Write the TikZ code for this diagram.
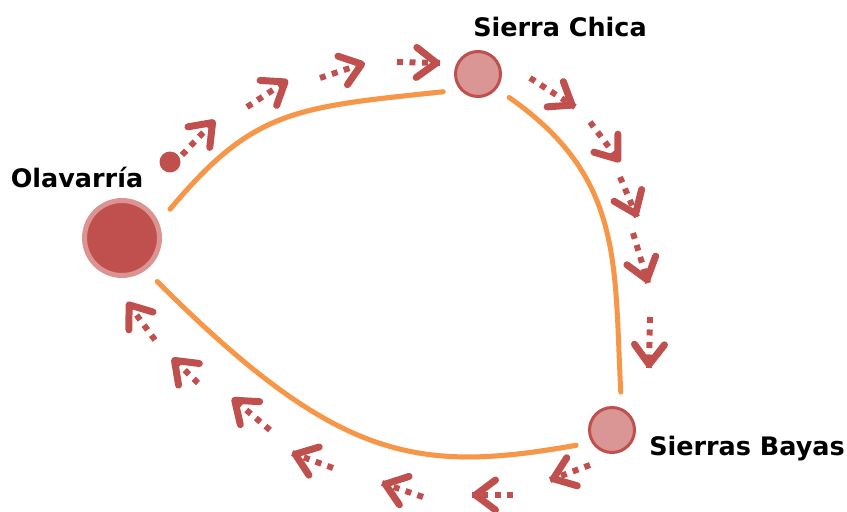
\documentclass[tikz,border=0pt]{standalone}
\usepackage{fontspec}
\setmainfont{DejaVu Sans}
\usetikzlibrary{
  arrows.meta,
  positioning,  % Function "of" (e.g. [right=of x])
  decorations.markings,
}
\definecolor{townred}{HTML}{C0504D}
\definecolor{townpink}{HTML}{D99694}
\definecolor{townhalo}{HTML}{DC9492}
\definecolor{routeorange}{HTML}{F79646}
\tikzset{
  town/.style={
    circle,
    inner sep=0pt
  },
  big town/.style={
    town,
    fill=townred,
    draw=townhalo,
    line width=0.1cm,
    minimum size=1.5cm,
    outer sep=0.37cm
  },
  small town/.style={
    town,
    fill=townpink,
    draw=townred,
    line width=0.06cm,
    minimum size=0.9cm,
    outer sep=0.33cm
  },
  town label/.style={
    font=\bfseries\fontsize{14.5}{16}\selectfont
  },
  route/.style={
    draw=routeorange,
    line width=0.1cm,
    line cap=round,
    preaction={draw=black!45,opacity=.45,transform canvas={shift={(0.6pt,-1.2pt)}}}
  },
  % dotted shaft, barbed head placed on top (requires decorations.markings)
  trip/.style={
    draw=townred,
    line width=0.12cm,
    dash pattern=on 0.12cm off 0.13cm,
    decoration={markings,mark=at position 1 with {\arrow[townred]{Straight Barb[round,length=0.4cm,width=0.6cm,line width=0.14cm]}}},
    postaction={decorate}
  }
}

\begin{document}
\begin{tikzpicture}[x=0.02cm,y=0.02cm]
\useasboundingbox (0,0) rectangle (847,511);
\node[big town]   (olav)  at (122,273) {};
\node[small town] (chica) at (478,437) {};
\node[small town] (bayas) at (612,81)  {};
\node[town,fill=townred,minimum size=0.42cm] (start) at (170,349) {};
\node[town label] (lolav)  at (77,334)  {Olavarría};
\node[town label] (lchica) at (560,484) {Sierra Chica};
\node[town label] (lbayas) at (747,62)  {Sierras Bayas};
% roads
\draw[route] (olav.31)   .. controls +(50:130)  and +(186:150) .. (chica.207);
\draw[route] (chica.323) .. controls +(-35:140) and +(93:130)  .. (bayas.77);
\draw[route] (olav.309)  .. controls +(-45:257) and +(190:160) .. (bayas.203);
% direction of the trip
\foreach \sx/\sy/\tx/\ty in {182/356/215/391, 247/404/288/431, 320/433/365/448,
                             397/449/440/448, 530/433/575/404, 590/389/620/349,
                             620/334/637/294, 633/278/648/228, 650/194/649/143,
                             590/46/550/31,   513/16/472/16,   423/14/382/28,
                             333/43/292/58,   270/81/232/113,  198/128/172/153,
                             155/171/127/209}
  \draw[trip] (\sx,\sy) -- (\tx,\ty);
\end{tikzpicture}
\end{document}
